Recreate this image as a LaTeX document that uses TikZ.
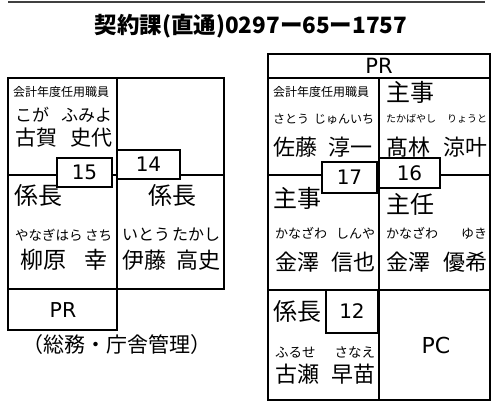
\documentclass[tikz,border=0pt]{standalone}
\usepackage{fontspec}
\setmainfont{Noto Sans CJK JP}
\newfontfamily\latinfont{DejaVu Sans}
\usepackage{tikz}
% one row of a name: family name left, given name right
\newcommand{\nmrow}[3]{\hbox to #1{#2\hfill #3}}
\tikzset{
% walls of the rooms and the small door plates
room/.style={draw,line width=1.4pt},
num box/.style={draw,line width=1.3pt,fill=white,inner sep=0,font=\latinfont\fontsize{20}{20}\selectfont},
post text/.style={inner sep=0,anchor=west,font=\fontsize{24}{24}\selectfont},
kana text/.style={inner sep=0,anchor=west,font=\fontsize{12}{12}\selectfont},
kanji text/.style={inner sep=0,anchor=west,font=\fontsize{22}{22}\selectfont},
tag text/.style={inner sep=0,font=\latinfont\fontsize{20.5}{21}\selectfont}
}

\begin{document}
\begin{tikzpicture}[x=1pt,y=-1pt]
        \useasboundingbox (0,0) rectangle (493,406);
        % Rule and heading
        \draw[line width=1.5pt,black!75] (8,2) -- (485,2);
        \node(title)[inner sep=0,font=\fontsize{22.5}{23}\selectfont\bfseries] at (251,26) {契約課(直通)0297ー65ー1757};
        % Left block
        \draw[room] (8,78) rectangle (224,289);
        \draw[room] (117,78) -- (117,289);
        \draw[room] (8,175) -- (224,175);
        \draw[room] (8,289) rectangle (117,330);
        \node(L1)[kana text] at (13,92) {会計年度任用職員};
        \node(L1k)[kana text,font=\fontsize{17}{17}\selectfont] at (15,115) {\nmrow{97pt}{こが}{ふみよ}};
        \node(L1n)[kanji text,font=\fontsize{21}{21}\selectfont] at (15,138) {\nmrow{97pt}{古賀}{史代}};
        \node(L2p)[post text] at (14,195) {係長};
        \node(L2k)[kana text,font=\fontsize{13.5}{14}\selectfont] at (15,235) {\nmrow{97pt}{やなぎはら}{さち}};
        \node(L2n)[kanji text,font=\fontsize{23}{23}\selectfont] at (20,260) {\nmrow{87pt}{柳原}{幸}};
        \node(L3p)[post text,anchor=center] at (172,195) {係長};
        \node(L3k)[kana text,font=\fontsize{16}{16}\selectfont] at (122,235) {\nmrow{98pt}{いとう}{たかし}};
        \node(L3n)[kanji text] at (122,260) {\nmrow{98pt}{伊藤}{高史}};
        \node(L15)[num box,minimum width=55,minimum height=29] at (84.5,172.5) {15};
        \node(L14)[num box,minimum width=63,minimum height=29] at (148.5,164.5) {14};
        \node(LPR)[tag text] at (63,310) {PR};
        \node(Lsec)[inner sep=0,font=\fontsize{21}{21}\selectfont] at (117,345) {（総務・庁舎管理）};
        % Right block
        \draw[room] (268,54) rectangle (490,400);
        \draw[room] (268,78) -- (490,78);
        \draw[room] (379,78) -- (379,400);
        \draw[room] (268,175) -- (490,175);
        \draw[room] (268,290) -- (490,290);
        \node(RPR)[tag text,font=\latinfont\fontsize{21}{21}\selectfont] at (379,66) {PR};
        \node(R1)[kana text] at (273,92) {会計年度任用職員};
        \node(R1k)[kana text] at (273,119) {\nmrow{101pt}{さとう}{じゅんいち}};
        \node(R1n)[kanji text] at (273,147) {\nmrow{99pt}{佐藤}{淳一}};
        \node(R2p)[post text] at (386,92) {主事};
        \node(R2k)[kana text,font=\fontsize{10}{10}\selectfont] at (386,119) {\nmrow{101pt}{たかばやし}{りょうと}};
        \node(R2n)[kanji text] at (386,147) {\nmrow{101pt}{髙林}{涼叶}};
        \node(R3p)[post text] at (273,198) {主事};
        \node(R3k)[kana text,font=\fontsize{13}{13}\selectfont] at (275,233) {\nmrow{100pt}{かなざわ}{しんや}};
        \node(R3n)[kanji text] at (275,262) {\nmrow{100pt}{金澤}{信也}};
        \node(R4p)[post text] at (386,204) {主任};
        \node(R4k)[kana text,font=\fontsize{13}{13}\selectfont] at (386,233) {\nmrow{101pt}{かなざわ}{ゆき}};
        \node(R4n)[kanji text] at (386,262) {\nmrow{101pt}{金澤}{優希}};
        \node(R5p)[post text] at (273,311) {係長};
        \node(R5k)[kana text,font=\fontsize{13.5}{14}\selectfont] at (275,352) {\nmrow{100pt}{ふるせ}{さなえ}};
        \node(R5n)[kanji text] at (275,374) {\nmrow{100pt}{古瀬}{早苗}};
        \node(RPC)[tag text,font=\latinfont\fontsize{22}{22}\selectfont] at (436,345) {PC};
        \node(R17)[num box,minimum width=55,minimum height=31] at (349.5,177.5) {17};
        \node(R16)[num box,minimum width=61,minimum height=30] at (409.5,173) {16};
        \node(R12)[num box,minimum width=52,minimum height=43] at (352,311.5) {12};
\end{tikzpicture}
\end{document}
